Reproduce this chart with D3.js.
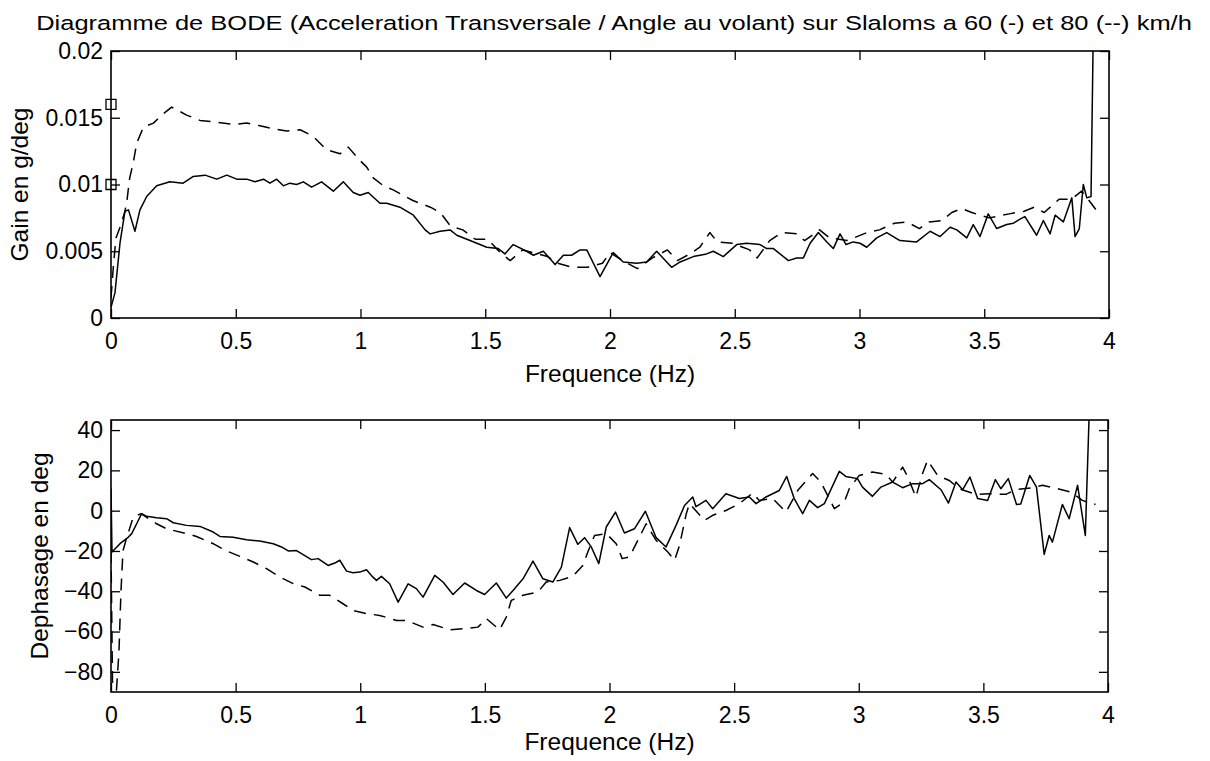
<!DOCTYPE html>
<html><head><meta charset="utf-8">
<script src="https://cdn.jsdelivr.net/npm/d3@7"></script>
<style>
html,body{margin:0;padding:0;background:#fff;}
svg text{font-family:"Liberation Sans",Arial,Helvetica,sans-serif;fill:#000;}
</style></head>
<body><svg id="c" width="1210" height="761"></svg>
<script>
// ---- data ----
const title = "Diagramme de BODE (Acceleration Transversale / Angle au volant) sur Slaloms a 60 (-) et 80 (--) km/h";
const xLabel = "Frequence (Hz)";
const gainLabel = "Gain en g/deg";
const phaseLabel = "Dephasage en deg";
const xTicks = [0, 0.5, 1, 1.5, 2, 2.5, 3, 3.5, 4];
const gainTicks = [0, 0.005, 0.01, 0.015, 0.02];
const gainTickLabels = ["0", "0.005", "0.01", "0.015", "0.02"];
const phaseTicks = [-80, -60, -40, -20, 0, 20, 40];
const phaseTickLabels = ["\u221280", "\u221260", "\u221240", "\u221220", "0", "20", "40"];

// gain, 60 km/h (solid)
const gain60F = [0.000,0.016,0.036,0.056,0.070,0.096,0.116,0.143,0.183,0.236,0.289,0.330,0.377,0.424,0.464,0.504,0.544,0.577,0.611,0.637,0.664,0.691,0.717,0.744,0.771,0.804,0.844,0.891,0.931,0.971,0.998,1.031,1.078,1.105,1.158,1.212,1.259,1.279,1.319,1.359,1.386,1.439,1.506,1.552,1.579,1.612,1.666,1.693,1.733,1.780,1.813,1.846,1.880,1.907,1.960,2.013,2.053,2.107,2.147,2.187,2.247,2.281,2.334,2.387,2.414,2.454,2.508,2.548,2.601,2.628,2.655,2.715,2.748,2.775,2.802,2.835,2.869,2.895,2.922,2.946,2.975,3.002,3.029,3.069,3.109,3.162,3.229,3.283,3.323,3.363,3.390,3.430,3.456,3.483,3.516,3.550,3.590,3.617,3.643,3.663,3.710,3.737,3.764,3.784,3.817,3.851,3.864,3.881,3.897,3.911,3.928,3.937];
const gain60V = [0.0008,0.0019,0.0056,0.0080,0.0081,0.0065,0.0081,0.0091,0.0099,0.0102,0.0101,0.0106,0.0107,0.0104,0.0107,0.0104,0.0104,0.0102,0.0104,0.0101,0.0104,0.0099,0.0101,0.0100,0.0102,0.0098,0.0102,0.0095,0.0102,0.0094,0.0092,0.0094,0.0086,0.0086,0.0083,0.0077,0.0066,0.0063,0.0065,0.0066,0.0062,0.0058,0.0053,0.0052,0.0048,0.0055,0.0050,0.0047,0.0050,0.0040,0.0047,0.0047,0.0051,0.0051,0.0031,0.0049,0.0042,0.0041,0.0042,0.0050,0.0038,0.0042,0.0046,0.0048,0.0050,0.0046,0.0055,0.0056,0.0055,0.0052,0.0052,0.0043,0.0045,0.0045,0.0056,0.0064,0.0057,0.0052,0.0063,0.0055,0.0057,0.0056,0.0053,0.0060,0.0064,0.0058,0.0057,0.0065,0.0061,0.0068,0.0066,0.0060,0.0070,0.0061,0.0078,0.0067,0.0070,0.0071,0.0074,0.0076,0.0062,0.0073,0.0063,0.0077,0.0072,0.0090,0.0061,0.0067,0.0100,0.0090,0.0091,0.0215];

// gain, 80 km/h (dashed)
const gain80F = [0.000,0.010,0.020,0.040,0.056,0.064,0.075,0.089,0.103,0.130,0.170,0.210,0.243,0.303,0.357,0.410,0.490,0.544,0.597,0.644,0.704,0.758,0.811,0.864,0.918,0.951,0.998,1.025,1.051,1.092,1.131,1.210,1.280,1.320,1.360,1.410,1.460,1.510,1.560,1.600,1.650,1.690,1.750,1.790,1.850,1.910,1.970,2.000,2.050,2.110,2.170,2.230,2.270,2.320,2.360,2.400,2.430,2.490,2.560,2.590,2.640,2.690,2.750,2.780,2.840,2.880,2.950,3.030,3.080,3.140,3.190,3.240,3.280,3.330,3.370,3.410,3.450,3.520,3.600,3.660,3.700,3.740,3.800,3.850,3.890,3.920,3.948];
const gain80V = [0.0015,0.0040,0.0060,0.0070,0.0080,0.0088,0.0105,0.0116,0.0131,0.0143,0.0146,0.0153,0.0158,0.0152,0.0148,0.0147,0.0145,0.0146,0.0144,0.0142,0.0140,0.0141,0.0136,0.0126,0.0123,0.0128,0.0118,0.0113,0.0105,0.0099,0.0096,0.0088,0.0083,0.0079,0.0069,0.0066,0.0059,0.0059,0.0049,0.0043,0.0051,0.0049,0.0046,0.0041,0.0038,0.0038,0.0041,0.0049,0.0043,0.0037,0.0045,0.0051,0.0043,0.0048,0.0053,0.0064,0.0057,0.0056,0.0051,0.0045,0.0058,0.0064,0.0063,0.0058,0.0066,0.0060,0.0058,0.0064,0.0066,0.0071,0.0072,0.0067,0.0072,0.0073,0.0079,0.0082,0.0079,0.0075,0.0078,0.0080,0.0083,0.0079,0.0089,0.0089,0.0095,0.0088,0.0081];

// square markers on the gain axis
const markerF = [0, 0];
const markerV = [0.016, 0.01];

// phase, 60 km/h (solid)
const phase60F = [0.000,0.004,0.036,0.070,0.083,0.103,0.123,0.143,0.183,0.223,0.250,0.303,0.357,0.410,0.437,0.490,0.544,0.597,0.651,0.684,0.711,0.744,0.771,0.804,0.831,0.871,0.898,0.918,0.945,0.971,0.998,1.025,1.051,1.065,1.085,1.118,1.152,1.192,1.225,1.252,1.299,1.332,1.372,1.419,1.466,1.499,1.546,1.586,1.613,1.653,1.693,1.733,1.773,1.807,1.840,1.873,1.900,1.927,1.957,1.987,2.024,2.060,2.100,2.144,2.187,2.227,2.267,2.301,2.334,2.347,2.387,2.414,2.467,2.521,2.561,2.588,2.628,2.681,2.711,2.741,2.775,2.802,2.835,2.862,2.922,2.948,2.995,3.015,3.055,3.089,3.136,3.176,3.216,3.256,3.283,3.330,3.360,3.390,3.417,3.446,3.477,3.517,3.548,3.570,3.600,3.633,3.650,3.686,3.713,3.744,3.764,3.777,3.817,3.844,3.878,3.909,3.925];
const phase60V = [11,-20.5,-16.4,-13.1,-11.4,-6.5,-1.5,-2.8,-3.5,-4,-6,-7.3,-7.8,-10.6,-12.8,-13.2,-14.4,-15.1,-16.4,-18,-20,-19.8,-21.8,-24.3,-23.8,-27.2,-26,-24.6,-30,-30.8,-30.5,-29.3,-33,-34.6,-32.6,-36.3,-45.4,-36.3,-38.7,-42.9,-32.1,-35.4,-41.6,-35.9,-39.6,-41.6,-35.9,-43.4,-39.6,-33.8,-25,-33.8,-35.4,-28,-8.4,-16.7,-13.4,-18,-26.3,-8.1,-0.7,-11.1,-9,-0.3,-13.4,-18,-7.3,2.6,6.8,2,5.1,1,8.4,6,6.8,3.5,6.8,10,17,6,-1.5,5.1,1.5,3.5,19.5,17,15.9,11.7,7.1,11.7,14.2,11.4,13.4,13.4,15.4,10.4,3.8,14.2,10.4,16.7,6,5.1,15.4,10.9,15.9,3.1,3.3,17.5,11.7,-21.7,-12.3,-15.6,3.1,-4,12.6,-12.3,50];

// phase, 80 km/h (dashed)
const phase80F = [0.000,0.006,0.012,0.022,0.032,0.040,0.048,0.060,0.089,0.120,0.183,0.223,0.303,0.343,0.410,0.464,0.517,0.571,0.624,0.678,0.731,0.778,0.838,0.878,0.931,0.971,1.025,1.078,1.146,1.186,1.252,1.292,1.359,1.412,1.472,1.506,1.559,1.586,1.606,1.653,1.713,1.746,1.800,1.853,1.893,1.913,1.940,1.987,2.027,2.051,2.080,2.107,2.147,2.187,2.234,2.261,2.281,2.308,2.321,2.381,2.414,2.467,2.521,2.574,2.601,2.655,2.708,2.755,2.815,2.848,2.875,2.902,2.942,2.962,3.002,3.055,3.109,3.136,3.176,3.196,3.229,3.256,3.276,3.316,3.363,3.403,3.470,3.523,3.590,3.630,3.697,3.737,3.797,3.851,3.897,3.950];
const phase80V = [-20,-85,-88,-89,-70,-40,-20,-14.7,-3.2,-1.5,-6.5,-9,-11.4,-12.8,-16.4,-20,-22.7,-25.5,-28.8,-33,-36.2,-37.9,-42,-42,-46.2,-49.5,-51.1,-52,-54.5,-54.5,-57.8,-56.5,-59.1,-58.6,-57.8,-53.6,-59.1,-52.8,-44.5,-42,-40.4,-35.4,-34.6,-32.6,-27.2,-20.5,-12.3,-11.4,-16.4,-23.8,-23,-16.4,-6.5,-14.7,-20.5,-24.7,-17.2,-1.5,3.5,-4.8,-2.3,0.1,3.5,8.7,5.1,6,-0.7,10,18.4,14.2,7.6,1,4.3,10.9,17.5,19.2,18,14.2,21.6,17,6.8,18.4,25,17.5,15,10.9,8.1,8.4,8.1,10.4,11.4,12.6,10.9,9.2,5.1,3.1];

// ---- drawing ----
const svg = d3.select("#c");
svg.append("rect").attr("width",1210).attr("height",761).attr("fill","#fff");

const TICKFS = 23, LABFS = 24.5;
const xDomain = [0, 4];

function panel(cfg) {
  const {top, bottom, left, right, yDomain, yTicks, yTickLabels, series, ylabel, ylabelX, id, markers} = cfg;
  const x = d3.scaleLinear().domain(xDomain).range([left, right]);
  const y = d3.scaleLinear().domain(yDomain).range([bottom, top]);
  const g = svg.append("g");

  svg.append("defs").append("clipPath").attr("id", id)
    .append("rect").attr("x", left).attr("y", top).attr("width", right-left).attr("height", bottom-top);

  const fmt = (arr, labels) => (d) => labels[arr.indexOf(d)];
  const style = (sel, fs) => { sel.select(".domain").remove(); sel.selectAll("line").attr("stroke","#000").attr("stroke-width",1.3);
     sel.selectAll("text").attr("font-size", fs).attr("fill","#000"); };

  g.append("g").attr("transform",`translate(0,${bottom})`)
    .call(d3.axisBottom(x).tickValues(xTicks).tickFormat(d3.format("")).tickSize(-9).tickSizeOuter(0).tickPadding(15))
    .call(s => style(s, TICKFS));
  g.append("g").attr("transform",`translate(0,${top})`)
    .call(d3.axisTop(x).tickValues(xTicks).tickFormat("").tickSize(-9).tickSizeOuter(0))
    .call(s => style(s, TICKFS));
  g.append("g").attr("transform",`translate(${left},0)`)
    .call(d3.axisLeft(y).tickValues(yTicks).tickFormat(fmt(yTicks, yTickLabels)).tickSize(-9).tickSizeOuter(0).tickPadding(8))
    .call(s => style(s, TICKFS));
  g.append("g").attr("transform",`translate(${right},0)`)
    .call(d3.axisRight(y).tickValues(yTicks).tickFormat("").tickSize(-9).tickSizeOuter(0))
    .call(s => style(s, TICKFS));

  const lineGen = d3.line().x(d => x(d[0])).y(d => y(d[1]));
  const lg = g.append("g").attr("clip-path", `url(#${id})`);
  series.forEach(s => {
    const pts = s.f.map((f, i) => [f, s.v[i]]);
    lg.append("path").attr("d", lineGen(pts)).attr("fill","none").attr("stroke","#000")
      .attr("stroke-width",1.5).attr("stroke-linejoin","round")
      .attr("stroke-dasharray", s.dash ? "12,8" : null);
  });
  if (markers) {
    markers.f.forEach((f, i) => {
      g.append("path").attr("d", d3.symbol(d3.symbolSquare, 100)())
        .attr("transform", `translate(${x(f)},${y(markers.v[i])})`)
        .attr("fill","none").attr("stroke","#000").attr("stroke-width",1.3);
    });
  }
  g.append("rect").attr("x",left).attr("y",top).attr("width",right-left).attr("height",bottom-top)
    .attr("fill","none").attr("stroke","#000").attr("stroke-width",1.6);

  g.append("text").attr("x",(left+right)/2).attr("y", cfg.xlabelY).attr("text-anchor","middle")
    .attr("font-size",LABFS).text(xLabel);
  g.append("text").attr("transform",`translate(${ylabelX},${(top+bottom)/2}) rotate(-90)`)
    .attr("text-anchor","middle").attr("font-size",LABFS).text(ylabel);
}

panel({id:"c1", top:51, bottom:318, left:111, right:1109, yDomain:[0,0.02],
  yTicks:gainTicks, yTickLabels:gainTickLabels, ylabel:gainLabel, ylabelX:28, xlabelY:382,
  series:[{f:gain60F, v:gain60V, dash:false},{f:gain80F, v:gain80V, dash:true}],
  markers:{f:markerF, v:markerV}});
panel({id:"c2", top:420, bottom:692, left:111, right:1108, yDomain:[-90,45],
  yTicks:phaseTicks, yTickLabels:phaseTickLabels, ylabel:phaseLabel, ylabelX:48, xlabelY:750,
  series:[{f:phase60F, v:phase60V, dash:false},{f:phase80F, v:phase80V, dash:true}]});

// title: the scanned original is stretched horizontally, so widen the text to its span
const tt = svg.append("text").attr("text-anchor","middle").attr("font-size",20.5).text(title);
const tw = tt.node().getComputedTextLength();
const sx = 1156 / tw;
tt.attr("transform", `translate(614,29.5) scale(${sx},1)`);
</script></body></html>
